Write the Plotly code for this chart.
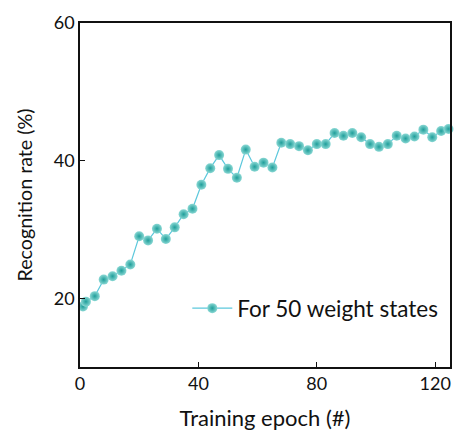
import plotly.graph_objects as go

epochs = [1, 2, 5, 8, 11, 14, 17, 20, 23, 26, 29, 32, 35, 38, 41, 44, 47, 50, 53, 56,
          59, 62, 65, 68, 71, 74, 77, 80, 83, 86, 89, 92, 95, 98, 101, 104, 107, 110,
          113, 116, 119, 122, 124.5]
rates = [18.8, 19.5, 20.3, 22.7, 23.2, 24.0, 24.9, 29.0, 28.4, 30.1, 28.6, 30.3, 32.2,
         33.0, 36.5, 38.9, 40.8, 38.8, 37.5, 41.6, 39.1, 39.7, 39.0, 42.6, 42.4, 42.1,
         41.5, 42.4, 42.4, 44.0, 43.6, 44.0, 43.4, 42.4, 42.0, 42.4, 43.6, 43.2, 43.5,
         44.5, 43.4, 44.3, 44.6]
x_ticks = [0, 40, 80, 120]
y_ticks = [20, 40, 60]

FONT = "Lato"
fig = go.Figure()
fig.add_trace(go.Scatter(
    x=epochs, y=rates, mode="lines+markers", name="For 50 weight states",
    line=dict(color="#5cc8dc", width=1.2),
    marker=dict(size=10, color="#8ad8d4",
                gradient=dict(type="radial", color="#1f9e9a"),
                line=dict(width=0)),
    cliponaxis=False,
))
fig.update_layout(
    width=456, height=436,
    margin=dict(l=80, r=4, t=23, b=69),
    paper_bgcolor="white", plot_bgcolor="white",
    font=dict(family=FONT, size=18, color="#111"),
    showlegend=True,
    legend=dict(x=0.29, y=0.17, xanchor="left", yanchor="middle",
                bgcolor="rgba(0,0,0,0)", font=dict(size=22.5, family=FONT),
                itemwidth=40),
    xaxis=dict(range=[0, 125], tickvals=x_ticks, ticks="inside", ticklen=5,
               tickcolor="#111", showline=True, linecolor="#111", linewidth=1.5,
               mirror=True, showgrid=False, zeroline=False,
               title=dict(text="Training epoch (#)", standoff=17, font=dict(size=22)),
               tickfont=dict(size=18)),
    yaxis=dict(range=[10, 60], tickvals=y_ticks, ticks="inside", ticklen=5,
               tickcolor="#111", showline=True, linecolor="#111", linewidth=1.5,
               mirror=True, showgrid=False, zeroline=False,
               title=dict(text="Recognition rate (%)", standoff=16, font=dict(size=19.7)),
               tickfont=dict(size=18)),
)
fig.write_html("out.html")
